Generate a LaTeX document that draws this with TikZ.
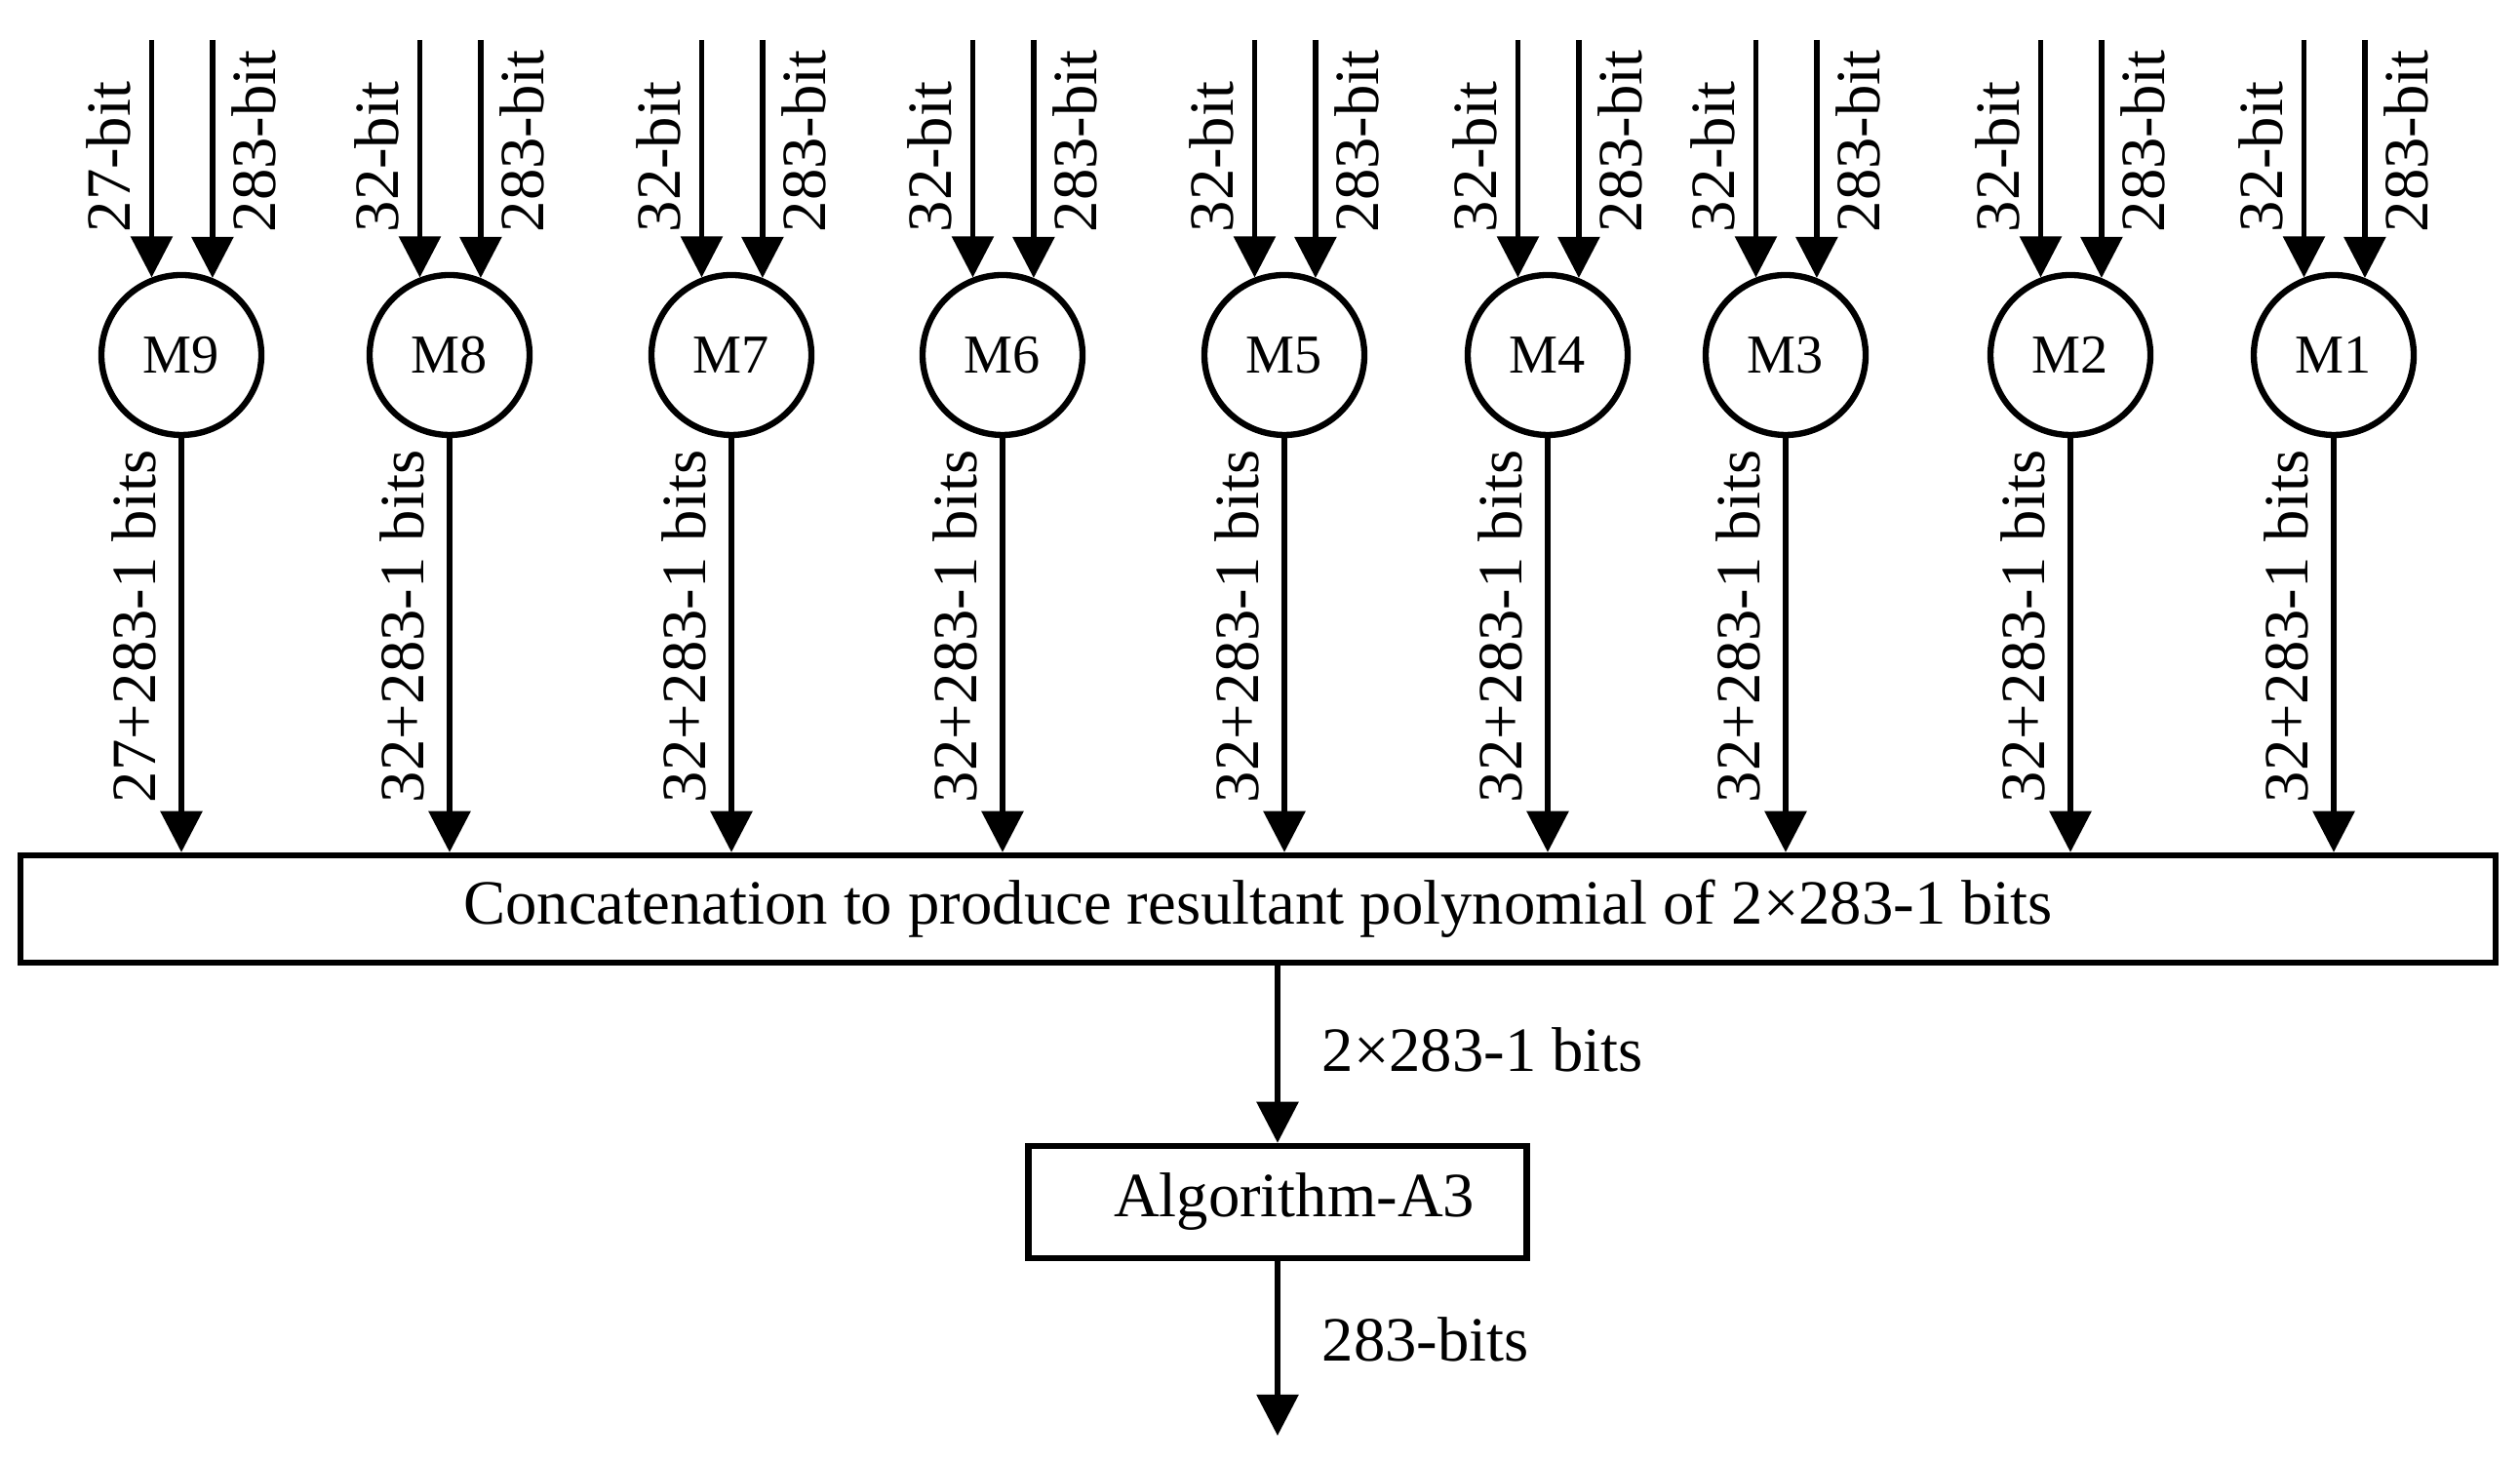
\documentclass[tikz,border=0pt]{standalone}
\usepackage{fontspec}
\setmainfont{Liberation Serif}
\usetikzlibrary{arrows.meta}

\begin{document}
\begin{tikzpicture}[
    wire/.style={line width=1.6pt, -{Triangle[length=12pt,width=12pt]}},
    mult/.style={circle, draw, line width=1.8pt, minimum size=1.64cm, inner sep=0pt, font=\fontsize{16}{18}\selectfont},
    block/.style={rectangle, draw, line width=1.8pt, inner sep=0pt, font=\fontsize{18.4}{22}\selectfont},
    vlabel/.style={rotate=90, anchor=west, inner sep=0pt, font=\fontsize{18.4}{22}\selectfont},
    hlabel/.style={anchor=west, inner sep=0pt, font=\fontsize{18.4}{22}\selectfont}
]
    \useasboundingbox (0,0) rectangle (25.84,14.99);
    \coordinate (top) at (0,14.58);

    % Concatenation block
    \node[block, minimum width=25.38cm, minimum height=1.10cm] (concat) at (12.90,5.67)
        {Concatenation to produce resultant polynomial of 2×283-1 bits};

    % Multipliers M9 ... M1 with their inputs and outputs
    \foreach \x/\n/\w in {1.86/9/27, 4.61/8/32, 7.50/7/32, 10.28/6/32, 13.17/5/32,
                          15.87/4/32, 18.31/3/32, 21.23/2/32, 23.93/1/32}{
        \node[mult] (M\n) at (\x,11.35) {M\n};
        \coordinate (M\n-a) at (M\n.111.5 |- top);
        \coordinate (M\n-b) at (M\n.68.5 |- top);
        \draw[wire] (M\n-a) -- (M\n.111.5);
        \draw[wire] (M\n-b) -- (M\n.68.5);
        \node[vlabel] (M\n-la) at (\x-0.75,12.60) {\w-bit};
        \node[vlabel] (M\n-lb) at (\x+0.74,12.60) {283-bit};
        \draw[wire] (M\n.south) -- (M\n.south |- concat.north);
        \node[vlabel] (M\n-lo) at (\x-0.49,6.75) {\w+283-1 bits};
    }

    % Reduction
    \node[block, minimum width=5.11cm, minimum height=1.15cm] (alg) at (13.10,2.665) {\hspace*{3.4mm}Algorithm-A3};
    \coordinate (out) at (13.10,0.27);
    \draw[wire] (alg.north |- concat.south) -- (alg.north);
    \draw[wire] (alg.south) -- (out);
    \node[hlabel] (l-cat) at (13.55,4.23) {2×283-1 bits};
    \node[hlabel] (l-out) at (13.55,1.26) {283-bits};
\end{tikzpicture}
\end{document}
